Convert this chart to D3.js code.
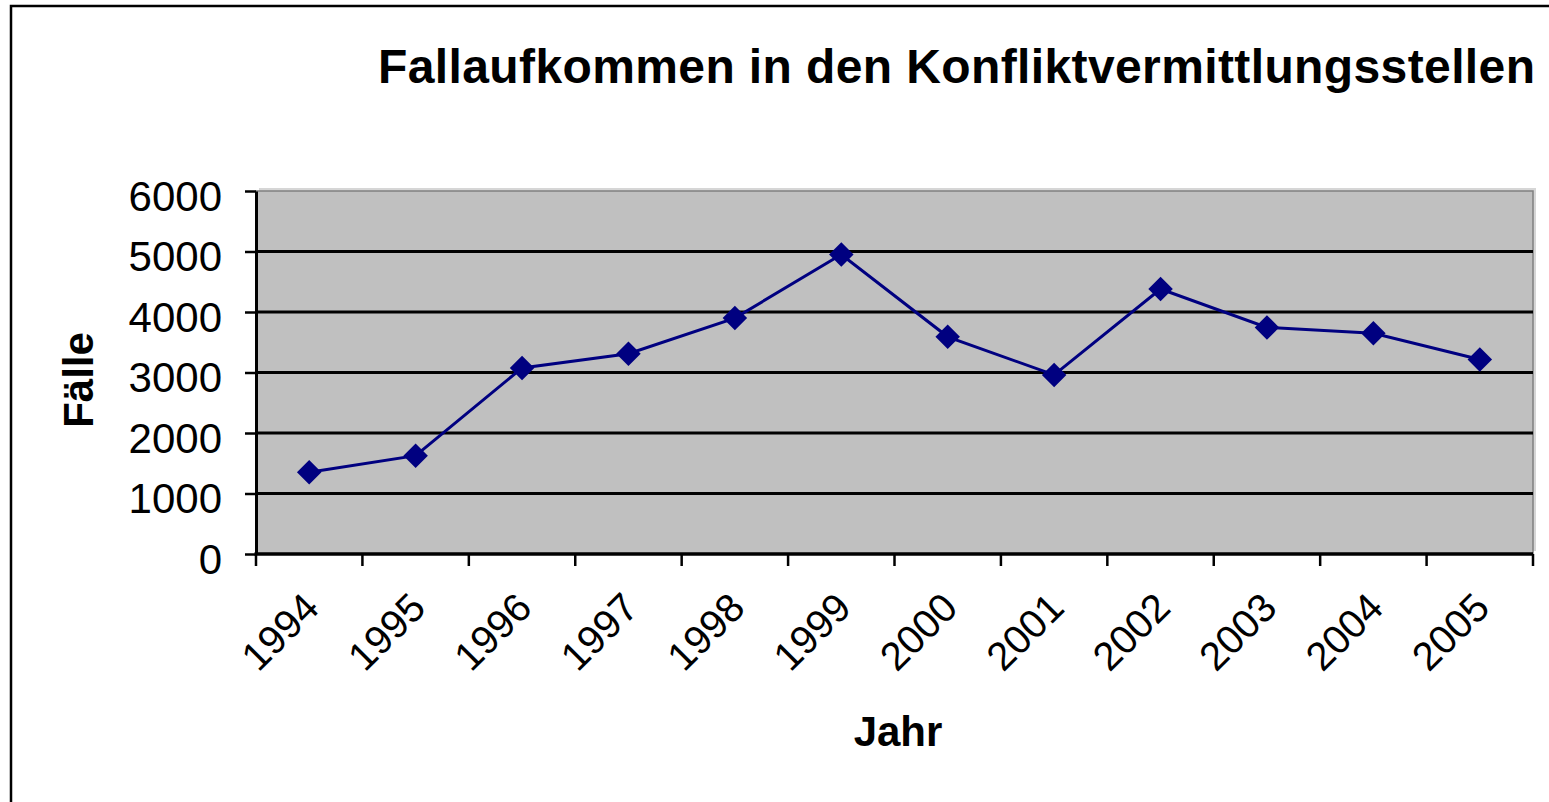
<!DOCTYPE html>
<html>
<head>
<meta charset="utf-8">
<title>Fallaufkommen in den Konfliktvermittlungsstellen</title>
<script src="https://cdn.jsdelivr.net/npm/d3@7"></script>
<style>
	html, body { margin: 0; padding: 0; background: #ffffff; }
	svg { display: block; font-family: "Liberation Sans", Arial, sans-serif; }
</style>
</head>
<body>
<div id="chart"></div>
<script>
// values
const years = ['1994', '1995', '1996', '1997', '1998', '1999', '2000', '2001', '2002', '2003', '2004', '2005'];
const cases = [1350, 1625, 3075, 3310, 3900, 4950, 3590, 2960, 4380, 3745, 3650, 3215];
const y_ticks = [0, 1000, 2000, 3000, 4000, 5000, 6000];

const chart_title = 'Fallaufkommen in den Konfliktvermittlungsstellen';
const x_title = 'Jahr';
const y_title = 'Fälle';

let width = 1549,
	height = 802,
	plot = {left: 256, right: 1533, top: 191, bottom: 554};

let svg = d3.select('#chart')
	.append('svg')
		.attr('width', width)
		.attr('height', height);

// outer frame, runs off the right and bottom of the picture
svg.append('rect')
	.attr('x', 11)
	.attr('y', 6)
	.attr('width', width + 20)
	.attr('height', height + 20)
	.attr('fill', 'none')
	.attr('stroke', '#000')
	.attr('stroke-width', 2.5);

let x = d3.scaleBand()
	.domain(years)
	.range([plot.left, plot.right]);

let y = d3.scaleLinear()
	.domain([0, 6000])
	.range([plot.bottom, plot.top]);

// plot area with its light shadow
svg.append('rect')
	.attr('x', plot.left + 3)
	.attr('y', plot.top - 3)
	.attr('width', plot.right - plot.left)
	.attr('height', plot.bottom - plot.top)
	.attr('fill', '#d6d6d6');

svg.append('rect')
	.attr('x', plot.left)
	.attr('y', plot.top)
	.attr('width', plot.right - plot.left)
	.attr('height', plot.bottom - plot.top)
	.attr('fill', '#c0c0c0')
	.attr('stroke', '#808080')
	.attr('stroke-width', 1.5);

// gridlines
svg.append('g')
	.attr('class', 'grid')
	.selectAll('line')
	.data(y_ticks.filter(d => d > 0 && d < 6000))
	.enter().append('line')
		.attr('x1', plot.left)
		.attr('x2', plot.right)
		.attr('y1', d => y(d))
		.attr('y2', d => y(d))
		.attr('stroke', '#000')
		.attr('stroke-width', 3);

// y axis
let y_axis = svg.append('g')
	.attr('transform', 'translate(' + plot.left + ',0)')
	.call(d3.axisLeft(y).tickValues(y_ticks).tickFormat(d3.format('d')).tickSize(11).tickSizeOuter(0).tickPadding(0));

y_axis.select('.domain').attr('stroke-width', 3);
y_axis.selectAll('.tick line').attr('stroke-width', 2.5);
y_axis.selectAll('.tick text')
	.attr('x', -34)
	.attr('dy', 19)
	.attr('font-size', 42)
	.attr('font-family', '"Liberation Sans", Arial, sans-serif')
	.attr('fill', '#000');

// x axis: ticks sit between the categories
let x_axis = svg.append('g')
	.attr('transform', 'translate(0,' + plot.bottom + ')');

x_axis.append('line')
	.attr('x1', plot.left - 1.5)
	.attr('x2', plot.right)
	.attr('stroke', '#000')
	.attr('stroke-width', 3.5);

let boundaries = years.map(d => x(d)).concat([x(years[years.length - 1]) + x.bandwidth()]);
x_axis.selectAll('line.tick')
	.data(boundaries)
	.enter().append('line')
		.attr('class', 'tick')
		.attr('x1', d => d)
		.attr('x2', d => d)
		.attr('y1', 0)
		.attr('y2', 12)
		.attr('stroke', '#000')
		.attr('stroke-width', 2.5);

x_axis.selectAll('text')
	.data(years)
	.enter().append('text')
		.attr('transform', d => 'translate(' + (x(d) + x.bandwidth() / 2 + 12) + ',' + 56 + ') rotate(-45)')
		.attr('text-anchor', 'end')
		.attr('font-size', 40)
		.attr('fill', '#000')
		.text(d => d);

// series
let cx = d => x(d) + x.bandwidth() / 2;

let line = d3.line()
	.x((d, i) => cx(years[i]))
	.y(d => y(d));

svg.append('path')
	.datum(cases)
	.attr('d', line)
	.attr('fill', 'none')
	.attr('stroke', '#000080')
	.attr('stroke-width', 3);

let diamond = d3.symbol().type(d3.symbolSquare).size(300);

svg.append('g')
	.attr('class', 'markers')
	.selectAll('path')
	.data(cases)
	.enter().append('path')
		.attr('d', diamond)
		.attr('transform', (d, i) => 'translate(' + cx(years[i]) + ',' + y(d) + ') rotate(45)')
		.attr('fill', '#000080');

// titles
svg.append('text')
	.attr('x', 378)
	.attr('y', 83)
	.attr('font-size', 48)
	.attr('font-weight', 'bold')
	.attr('textLength', 1157)
	.attr('lengthAdjust', 'spacing')
	.text(chart_title);

svg.append('text')
	.attr('x', 898)
	.attr('y', 746)
	.attr('text-anchor', 'middle')
	.attr('font-size', 42)
	.attr('font-weight', 'bold')
	.text(x_title);

svg.append('text')
	.attr('transform', 'translate(93,380) rotate(-90)')
	.attr('text-anchor', 'middle')
	.attr('font-size', 42)
	.attr('font-weight', 'bold')
	.text(y_title);
</script>
</body>
</html>
